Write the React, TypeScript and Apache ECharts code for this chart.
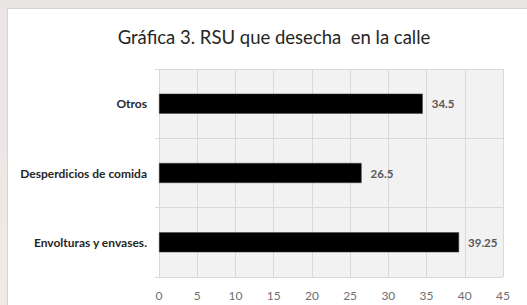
import React, { useEffect, useRef } from "react";
import * as echarts from "echarts";

const categories = ["Envolturas y envases.", "Desperdicios de comida", "Otros"];
const values = [39.25, 26.5, 34.5];
const titleText = "Gráfica 3. RSU que desecha  en la calle";
const axisMin = 0;
const axisMax = 45;
const axisInterval = 5;

export default function App() {
  const ref = useRef<HTMLDivElement>(null);
  useEffect(() => {
    if (!ref.current) return;
    const chart = echarts.init(ref.current, null, { renderer: "svg" });
    const font = "Lato, 'Open Sans', sans-serif";
    chart.setOption({
      animation: false,
      backgroundColor: "#ffffff",
      title: {
        text: titleText,
        left: 261,
        top: 13,
        textAlign: "center",
        textStyle: {
          fontFamily: font,
          fontSize: 18.5,
          fontWeight: "normal",
          color: "#262626",
        },
      },
      grid: {
        left: 151,
        right: 24,
        top: 60,
        bottom: 28,
        show: true,
        backgroundColor: "#f2f2f2",
        borderWidth: 0,
      },
      xAxis: {
        type: "value",
        min: axisMin,
        max: axisMax,
        interval: axisInterval,
        axisLine: { show: false },
        axisTick: { show: false },
        splitLine: { show: true, lineStyle: { color: "#d9d9d9", width: 1 } },
        axisLabel: {
          fontFamily: font,
          fontSize: 12,
          color: "#6f6f6f",
          margin: 12,
        },
      },
      yAxis: {
        type: "category",
        data: categories,
        axisLine: { show: false },
        axisTick: { show: true, length: 4, lineStyle: { color: "#d9d9d9" } },
        splitLine: { show: true, lineStyle: { color: "#d9d9d9", width: 1 } },
        axisLabel: {
          fontFamily: font,
          fontSize: 12,
          fontWeight: "bold",
          color: "#262626",
          margin: 12,
        },
      },
      series: [
        {
          type: "bar",
          data: values,
          barWidth: 20,
          itemStyle: { color: "#000000", borderColor: "#404040", borderWidth: 0.5 },
          label: {
            show: true,
            position: "right",
            distance: 9,
            fontFamily: font,
            fontSize: 11.5,
            fontWeight: "bold",
            color: "#595959",
          },
        },
      ],
    });
    return () => chart.dispose();
  }, []);
  return (
    <div
      style={{
        position: "fixed",
        left: 0,
        top: 0,
        width: 527,
        height: 305,
        background: "linear-gradient(180deg, #e9e6e5 0%, #ece7e6 50%, #f3e9e4 100%)",
      }}
    >
      <div
        style={{
          position: "absolute",
          left: 7,
          top: 8,
          width: 520,
          height: 297,
          borderTop: "1px solid #d4d4d4",
          borderLeft: "1px solid #d4d4d4",
          boxSizing: "border-box",
          background: "#fff",
        }}
      >
        <div ref={ref} style={{ width: 519, height: 296 }} />
      </div>
    </div>
  );
}
